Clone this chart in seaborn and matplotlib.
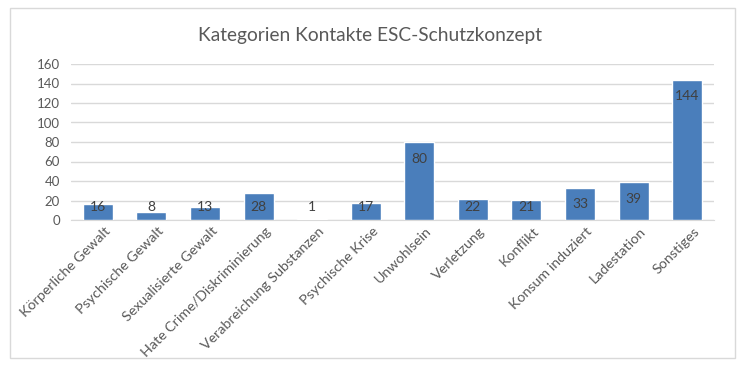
import numpy as np
import pandas as pd
import seaborn as sns
import matplotlib.pyplot as plt
import matplotlib.transforms as mtransforms
from matplotlib.patches import Rectangle

categories = ['Körperliche Gewalt', 'Psychische Gewalt', 'Sexualisierte Gewalt',
              'Hate Crime/Diskriminierung', 'Verabreichung Substanzen', 'Psychische Krise',
              'Unwohlsein', 'Verletzung', 'Konflikt', 'Konsum induziert', 'Ladestation',
              'Sonstiges']
counts = [16, 8, 13, 28, 1, 17, 80, 22, 21, 33, 39, 144]
title = 'Kategorien Kontakte ESC-Schutzkonzept'

sns.set_style('white')
plt.rcParams['font.family'] = ['Lato', 'DejaVu Sans']

df = pd.DataFrame({'Kategorie': categories, 'Anzahl': counts})

fig = plt.figure(figsize=(7.4, 3.66), dpi=100)
ax = fig.add_axes([71 / 740, 1 - 220 / 366, (714 - 71) / 740, 156 / 366])

# outer chart border
fig.patches.append(Rectangle((10 / 740, 8 / 366), 725 / 740, 350 / 366,
                             transform=fig.transFigure, fill=False,
                             edgecolor='#d9d9d9', linewidth=1))

sns.barplot(data=df, x='Kategorie', y='Anzahl', color='#4a7ebb',
            saturation=1, width=0.56, ax=ax, zorder=3)

ax.set_ylim(0, 160)
ax.set_yticks(np.arange(0, 161, 20))
ax.set_xlim(-0.5, len(categories) - 0.5)
ax.grid(axis='y', color='#d9d9d9', linewidth=1, zorder=0)
ax.set_axisbelow(True)
for s in ['top', 'right', 'left']:
    ax.spines[s].set_visible(False)
ax.spines['bottom'].set_color('#d9d9d9')
ax.set_xlabel('')
ax.set_ylabel('')
ax.tick_params(axis='both', length=0, colors='#595959', labelsize=9.5)
ax.tick_params(axis='x', labelsize=10.3)
ax.tick_params(axis='y', pad=8)
shift = mtransforms.ScaledTranslation(6 / 100, 0, fig.dpi_scale_trans)
for lab in ax.get_xticklabels():
    lab.set_rotation(45)
    lab.set_ha('right')
    lab.set_rotation_mode('anchor')
    lab.set_transform(lab.get_transform() + shift)

for i, v in enumerate(counts):
    ax.text(i, max(v - 17, 13.3), str(v), ha='center', va='center',
            fontsize=10, color='#404040', zorder=4)

fig.text(0.5, 1 - 35 / 366, title, ha='center', va='center',
         fontsize=13.8, color='#595959')

fig.savefig('out.png', dpi=100)
